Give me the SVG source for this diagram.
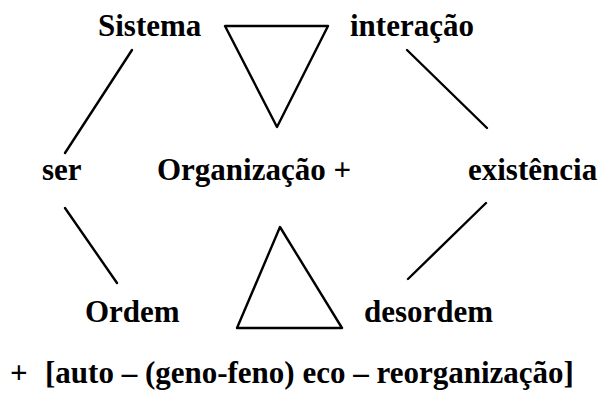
<svg xmlns="http://www.w3.org/2000/svg" width="603" height="397" viewBox="0 0 603 397">
<style>
text{font-family:"Liberation Serif","Times New Roman",serif;font-weight:bold;font-size:31px;fill:#000}
.ln{stroke:#000;stroke-width:2.4;fill:none;stroke-linecap:round;stroke-linejoin:round}
</style>
<rect width="603" height="397" fill="#fff"/>
<g id="sistema"><text x="98" y="36">Sistema</text></g>
<g id="interacao"><text x="350" y="36">interação</text></g>
<g id="ser"><text x="42" y="180">ser</text></g>
<g id="organizacao"><text x="157" y="180">Organização +</text></g>
<g id="existencia"><text x="468" y="180">existência</text></g>
<g id="ordem"><text x="85" y="322">Ordem</text></g>
<g id="desordem"><text x="364" y="322">desordem</text></g>
<g id="triangulo-cima"><polygon class="ln" points="225,26 328,26 277,127"/></g>
<g id="triangulo-baixo"><polygon class="ln" points="280,227 342,328 237,328"/></g>
<g id="formula"><text x="10" y="383" font-size="32">+<tspan x="45">[auto – (geno-feno) eco – reorganização]</tspan></text></g>
<g id="connectors">
<line class="ln" x1="132" y1="50" x2="65" y2="153"/>
<line class="ln" x1="407" y1="50" x2="487" y2="128"/>
<line class="ln" x1="65" y1="208" x2="117" y2="283"/>
<line class="ln" x1="486" y1="203" x2="408" y2="279"/>
</g>
</svg>
